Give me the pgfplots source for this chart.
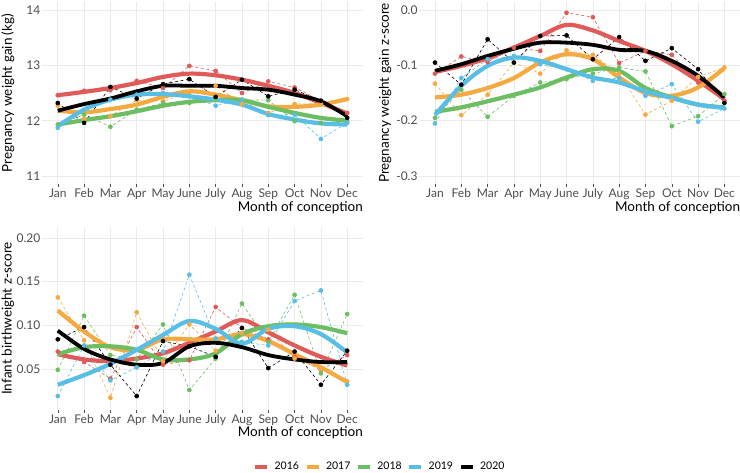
\documentclass[border=0pt]{standalone}
\usepackage{fontspec}
\setmainfont{Lato}
\usepackage{pgfplots}
\usepackage{pgfplotstable}
\pgfplotsset{compat=1.18}

\definecolor{c2016}{HTML}{E05A5A}
\definecolor{c2017}{HTML}{F5AA41}
\definecolor{c2018}{HTML}{6DBE63}
\definecolor{c2019}{HTML}{58BEE6}
\definecolor{c2020}{HTML}{000000}
\definecolor{gridgray}{HTML}{EBEBEB}
\definecolor{tickgray}{HTML}{4D4D4D}

% raw monthly values (r..) and smoothed trend (s..)
\pgfplotstableread{
m r16 r17 r18 r19 r20 s16 s17 s18 s19 s20
1 12.46 12.27 11.93 11.87 12.32 12.46 12.18 11.93 11.90 12.18
2 12.54 12.03 12.11 12.20 11.96 12.52 12.15 12.01 12.20 12.30
3 12.55 12.08 11.89 12.38 12.61 12.59 12.21 12.08 12.38 12.40
4 12.72 12.37 12.20 12.47 12.40 12.68 12.29 12.17 12.47 12.53
5 12.59 12.35 12.32 12.50 12.66 12.79 12.43 12.27 12.48 12.63
6 12.99 12.51 12.32 12.44 12.75 12.85 12.53 12.34 12.44 12.63
7 12.90 12.63 12.38 12.27 12.43 12.82 12.47 12.37 12.38 12.63
8 12.50 12.30 12.38 12.38 12.74 12.74 12.37 12.37 12.29 12.59
9 12.71 12.14 12.37 12.10 12.44 12.63 12.26 12.25 12.12 12.56
10 12.60 12.30 11.99 12.11 12.56 12.50 12.25 12.14 12.02 12.47
11 12.36 12.31 11.96 11.67 12.36 12.32 12.29 12.05 11.95 12.35
12 12.14 12.39 11.99 11.96 12.05 12.13 12.39 12.00 11.93 12.08
}\gain

\pgfplotstableread{
m r16 r17 r18 r19 r20 s16 s17 s18 s19 s20
1 -0.115 -0.133 -0.195 -0.205 -0.095 -0.112 -0.158 -0.184 -0.190 -0.110
2 -0.084 -0.190 -0.144 -0.123 -0.135 -0.101 -0.153 -0.176 -0.137 -0.098
3 -0.094 -0.153 -0.193 -0.089 -0.053 -0.087 -0.141 -0.165 -0.101 -0.083
4 -0.068 -0.095 -0.155 -0.083 -0.095 -0.068 -0.123 -0.153 -0.086 -0.070
5 -0.074 -0.115 -0.131 -0.098 -0.047 -0.047 -0.095 -0.140 -0.092 -0.059
6 -0.005 -0.073 -0.125 -0.107 -0.046 -0.027 -0.080 -0.122 -0.107 -0.059
7 -0.013 -0.081 -0.115 -0.128 -0.089 -0.037 -0.089 -0.107 -0.122 -0.063
8 -0.096 -0.115 -0.104 -0.123 -0.049 -0.056 -0.122 -0.110 -0.131 -0.072
9 -0.074 -0.189 -0.111 -0.155 -0.092 -0.074 -0.150 -0.141 -0.147 -0.074
10 -0.081 -0.164 -0.210 -0.134 -0.069 -0.098 -0.155 -0.158 -0.159 -0.092
11 -0.131 -0.121 -0.192 -0.202 -0.107 -0.128 -0.140 -0.171 -0.171 -0.119
12 -0.164 -0.104 -0.152 -0.178 -0.168 -0.161 -0.105 -0.176 -0.177 -0.158
}\gainz

\pgfplotstableread{
m r16 r17 r18 r19 r20 s16 s17 s18 s19 s20
1 0.070 0.132 0.049 0.019 0.084 0.067 0.117 0.067 0.032 0.094
2 0.058 0.083 0.111 0.077 0.098 0.061 0.093 0.075 0.043 0.073
3 0.039 0.017 0.066 0.037 0.055 0.059 0.075 0.076 0.056 0.061
4 0.098 0.115 0.061 0.052 0.019 0.062 0.072 0.072 0.072 0.055
5 0.055 0.059 0.101 0.070 0.082 0.068 0.084 0.061 0.089 0.057
6 0.060 0.101 0.026 0.158 0.076 0.080 0.084 0.061 0.105 0.076
7 0.121 0.071 0.062 0.085 0.064 0.093 0.084 0.068 0.096 0.080
8 0.097 0.091 0.125 0.081 0.097 0.106 0.090 0.090 0.079 0.075
9 0.084 0.095 0.081 0.077 0.051 0.092 0.082 0.099 0.096 0.066
10 0.064 0.062 0.135 0.128 0.070 0.077 0.067 0.101 0.099 0.061
11 0.049 0.050 0.045 0.140 0.032 0.064 0.052 0.098 0.090 0.058
12 0.066 0.036 0.113 0.032 0.071 0.054 0.035 0.091 0.069 0.058
}\bw

\pgfplotsset{
  panel/.style={
    scale only axis, width=321pt, height=182.6pt,
    xmin=0.4, xmax=12.6,
    xtick={1,...,12},
    xticklabels={Jan,Feb,Mar,Apr,May,June,July,Aug,Sep,Oct,Nov,Dec},
    axis line style={draw=none},
    xtick pos=lower, xtick align=outside, major tick length=3pt,
    xtick style={draw=tickgray, line width=0.5pt},
    ytick style={draw=none},
    grid=major, major grid style={draw=gridgray, line width=0.7pt},
    tick label style={font=\fontsize{12}{12}\selectfont, text=tickgray},
    xticklabel style={inner sep=1.5pt},
    yticklabel style={inner sep=1.5pt},
    label style={font=\fontsize{13.5}{14}\selectfont},
    xlabel={Month of conception},
    xlabel style={at={(axis description cs:1,-0.092)}, anchor=north east, inner sep=0pt},
    ylabel style={at={(axis description cs:-0.106,0.5)}, anchor=center, inner sep=0pt},
  },
  raw/.style={draw=#1, dash pattern=on 3pt off 2.5pt, line width=0.6pt,
    mark=*, mark size=2pt, mark options={solid, draw=none, fill=#1}},
  fit/.style={draw=#1, line width=4.2pt, smooth, tension=0.55, no marks, line join=round},
  key/.style={legend image code/.code={\draw[#1, line width=4pt] (0pt,0pt) -- (12pt,0pt);}},
}

\newcommand{\drawseries}[1]{%
  \addplot[raw=c2016] table[x=m, y=r16] {#1};
  \addplot[raw=c2017] table[x=m, y=r17] {#1};
  \addplot[raw=c2018] table[x=m, y=r18] {#1};
  \addplot[raw=c2019] table[x=m, y=r19] {#1};
  \addplot[raw=c2020] table[x=m, y=r20] {#1};
  \addplot[fit=c2016] table[x=m, y=s16] {#1};
  \addplot[fit=c2017] table[x=m, y=s17] {#1};
  \addplot[fit=c2018] table[x=m, y=s18] {#1};
  \addplot[fit=c2019] table[x=m, y=s19] {#1};
  \addplot[fit=c2020, line width=3.8pt] table[x=m, y=s20] {#1};
}

\begin{document}
\begin{tikzpicture}
\useasboundingbox (0,0) rectangle (740pt,473pt);

\begin{axis}[panel, at={(42pt,288.7pt)}, anchor=south west,
  ymin=10.85, ymax=14.15, ytick={11,12,13,14}, yticklabels={11,12,13,14},
  ylabel={Pregnancy weight gain (kg)}]
\drawseries{\gain}
\end{axis}

\begin{axis}[panel, at={(419.2pt,288.7pt)}, anchor=south west,
  ymin=-0.315, ymax=0.015, ytick={-0.3,-0.2,-0.1,0}, yticklabels={-0.3,-0.2,-0.1,0.0},
  ylabel={Pregnancy weight gain z-score}]
\drawseries{\gainz}
\end{axis}

\begin{axis}[panel, at={(42pt,63pt)}, anchor=south west, height=183pt,
  ymin=0.0031, ymax=0.2126, ytick={0.05,0.10,0.15,0.20}, yticklabels={0.05,0.10,0.15,0.20},
  ylabel={Infant birthweight z-score},
  legend columns=5,
  legend style={at={(axis description cs:1.05,-0.311)}, anchor=center, draw=none, fill=none,
    font=\fontsize{10.5}{11}\selectfont, column sep=5pt, inner sep=0pt,
    nodes={inner sep=0.5pt}},
  legend cell align=left]
\addlegendimage{key=c2016}\addlegendentry{2016}
\addlegendimage{key=c2017}\addlegendentry{2017}
\addlegendimage{key=c2018}\addlegendentry{2018}
\addlegendimage{key=c2019}\addlegendentry{2019}
\addlegendimage{key=c2020}\addlegendentry{2020}
\drawseries{\bw}
\end{axis}
\end{tikzpicture}
\end{document}
